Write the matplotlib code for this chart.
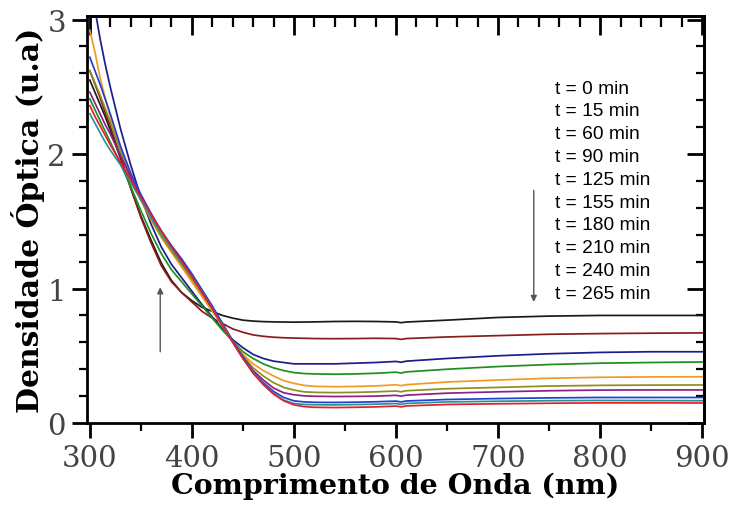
"""
Espectros de densidade optica ao longo do tempo (300-900 nm).
"""

import matplotlib

matplotlib.use("Agg")
import matplotlib.pyplot as plt
from matplotlib.ticker import MultipleLocator

# comprimentos de onda (nm) onde os valores foram lidos
wavelength = [300, 305, 310, 315, 320, 330, 340, 350, 360, 370, 380, 390, 400,
              410, 420, 430, 440, 450, 460, 470, 480, 490, 500, 510, 520, 540,
              560, 580, 600, 605, 610, 650, 700, 750, 800, 850, 900]

labels = ["t = 0 min", "t = 15 min", "t = 60 min", "t = 90 min", "t = 125 min",
          "t = 155 min", "t = 180 min", "t = 210 min", "t = 240 min", "t = 265 min"]

colors = ["#1a1a1a", "#8b1c1c", "#1c1c8c", "#1f8f1f", "#f39a25",
          "#8f8f1c", "#8c1f8c", "#2040d0", "#2a9292", "#e3202a"]

od_0 = [2.55, 2.46, 2.37, 2.28, 2.18, 1.97, 1.75, 1.54, 1.36, 1.19, 1.06, 0.97, 0.91,
        0.86, 0.83, 0.80, 0.78, 0.765, 0.758, 0.754, 0.752, 0.751, 0.75, 0.751, 0.752, 0.755,
        0.756, 0.755, 0.752, 0.746, 0.751, 0.765, 0.785, 0.795, 0.80, 0.80, 0.80]
od_15 = [2.62, 2.52, 2.42, 2.31, 2.21, 1.98, 1.75, 1.53, 1.34, 1.17, 1.05, 0.97, 0.90,
         0.83, 0.78, 0.74, 0.70, 0.675, 0.655, 0.645, 0.638, 0.634, 0.632, 0.63, 0.628, 0.627,
         0.628, 0.63, 0.628, 0.622, 0.628, 0.64, 0.65, 0.66, 0.665, 0.668, 0.67]
od_60 = [3.25, 3.08, 2.86, 2.67, 2.50, 2.19, 1.92, 1.68, 1.48, 1.31, 1.18, 1.08, 0.98,
         0.88, 0.79, 0.70, 0.62, 0.56, 0.51, 0.48, 0.46, 0.45, 0.44, 0.44, 0.44, 0.44,
         0.445, 0.45, 0.458, 0.452, 0.46, 0.48, 0.50, 0.515, 0.525, 0.53, 0.53]
od_90 = [2.41, 2.33, 2.25, 2.17, 2.09, 1.93, 1.76, 1.58, 1.41, 1.26, 1.14, 1.05, 0.96,
         0.87, 0.78, 0.69, 0.61, 0.53, 0.48, 0.44, 0.41, 0.39, 0.375, 0.368, 0.365, 0.363,
         0.365, 0.37, 0.378, 0.372, 0.38, 0.40, 0.42, 0.435, 0.445, 0.45, 0.454]
od_125 = [2.92, 2.76, 2.57, 2.42, 2.28, 2.05, 1.84, 1.66, 1.51, 1.38, 1.27, 1.16, 1.05,
          0.94, 0.83, 0.72, 0.61, 0.51, 0.44, 0.39, 0.35, 0.315, 0.295, 0.28, 0.273, 0.27,
          0.272, 0.276, 0.284, 0.278, 0.285, 0.305, 0.32, 0.333, 0.34, 0.343, 0.344]
od_155 = [2.62, 2.53, 2.44, 2.34, 2.24, 2.02, 1.82, 1.66, 1.52, 1.39, 1.28, 1.18, 1.07,
          0.96, 0.85, 0.73, 0.61, 0.50, 0.41, 0.35, 0.30, 0.265, 0.245, 0.232, 0.228, 0.226,
          0.228, 0.232, 0.238, 0.232, 0.24, 0.255, 0.265, 0.275, 0.28, 0.282, 0.283]
od_180 = [2.46, 2.38, 2.30, 2.22, 2.15, 1.99, 1.83, 1.68, 1.54, 1.42, 1.31, 1.21, 1.10,
          0.98, 0.86, 0.74, 0.61, 0.49, 0.39, 0.32, 0.26, 0.225, 0.21, 0.202, 0.199, 0.197,
          0.198, 0.20, 0.206, 0.2, 0.207, 0.222, 0.232, 0.24, 0.245, 0.246, 0.246]
od_210 = [2.72, 2.62, 2.52, 2.41, 2.30, 2.06, 1.86, 1.70, 1.56, 1.43, 1.32, 1.22, 1.11,
          0.99, 0.87, 0.74, 0.61, 0.49, 0.38, 0.30, 0.235, 0.19, 0.165, 0.157, 0.154, 0.153,
          0.155, 0.158, 0.163, 0.157, 0.164, 0.175, 0.182, 0.187, 0.19, 0.19, 0.19]
od_240 = [2.30, 2.23, 2.16, 2.09, 2.03, 1.92, 1.79, 1.66, 1.53, 1.41, 1.30, 1.19, 1.09,
          0.97, 0.85, 0.73, 0.60, 0.48, 0.375, 0.29, 0.22, 0.17, 0.145, 0.138, 0.136, 0.135,
          0.137, 0.14, 0.145, 0.139, 0.146, 0.157, 0.162, 0.166, 0.168, 0.167, 0.166]
od_265 = [2.36, 2.28, 2.21, 2.14, 2.07, 1.94, 1.81, 1.68, 1.55, 1.43, 1.31, 1.20, 1.09,
          0.97, 0.85, 0.72, 0.60, 0.48, 0.37, 0.285, 0.215, 0.165, 0.135, 0.122, 0.117, 0.115,
          0.117, 0.12, 0.126, 0.12, 0.127, 0.138, 0.143, 0.147, 0.15, 0.15, 0.149]

series = [od_0, od_15, od_60, od_90, od_125, od_155, od_180, od_210, od_240, od_265]


def main() -> None:
    fig = plt.figure(figsize=(7.29, 5.06), dpi=100)
    ax = fig.add_axes([0.119, 0.162, 0.847, 0.804])

    for values, color in zip(series, colors):
        ax.plot(wavelength, values, color=color, linewidth=1.25)

    ax.set_xlim(297, 902)
    ax.set_ylim(0, 3.025)

    # eixos inferior / esquerdo: ticks para fora
    ax.xaxis.set_major_locator(MultipleLocator(100))
    ax.xaxis.set_minor_locator(MultipleLocator(50))
    ax.yaxis.set_major_locator(MultipleLocator(1))
    ax.yaxis.set_minor_locator(MultipleLocator(0.2))
    ax.tick_params(which="major", direction="out", length=11, width=2,
                   labelsize=21, labelcolor="#444444", pad=4)
    ax.tick_params(which="minor", direction="out", length=6, width=1.6)
    for lab in ax.get_xticklabels() + ax.get_yticklabels():
        lab.set_family("DejaVu Serif")

    # eixos superior / direito: ticks para dentro
    top = ax.secondary_xaxis("top")
    top.xaxis.set_major_locator(MultipleLocator(100))
    top.xaxis.set_minor_locator(MultipleLocator(20))
    top.tick_params(which="major", direction="in", length=14, width=2, labeltop=False)
    top.tick_params(which="minor", direction="in", length=8, width=1.6)
    right = ax.secondary_yaxis("right")
    right.yaxis.set_major_locator(MultipleLocator(1))
    right.yaxis.set_minor_locator(MultipleLocator(0.2))
    right.tick_params(which="major", direction="in", length=12, width=2, labelright=False)
    right.tick_params(which="minor", direction="in", length=6, width=1.6)
    for axis in (ax, top, right):
        for spine in axis.spines.values():
            spine.set_linewidth(2)

    ax.set_xlabel("Comprimento de Onda (nm)", family="DejaVu Serif",
                  fontweight="bold", fontsize=20.5, labelpad=0)
    ax.set_ylabel("Densidade Óptica (u.a)", family="DejaVu Serif",
                  fontweight="bold", fontsize=21.5, labelpad=2)

    # rotulos dos tempos (sem linhas de legenda)
    for i, label in enumerate(labels):
        ax.text(0.759, 0.823 - i * 0.056, label, transform=ax.transAxes,
                family="Liberation Sans", fontsize=13.8, va="center", ha="left")

    arrow = dict(arrowstyle="-|>", color="#555555", lw=1.0,
                 mutation_scale=9, shrinkA=0, shrinkB=0)
    ax.annotate("", xy=(369, 1.01), xytext=(369, 0.53), arrowprops=arrow)
    ax.annotate("", xy=(735, 0.90), xytext=(735, 1.73), arrowprops=arrow)

    fig.savefig("out.png", dpi=100)


if __name__ == "__main__":
    main()
